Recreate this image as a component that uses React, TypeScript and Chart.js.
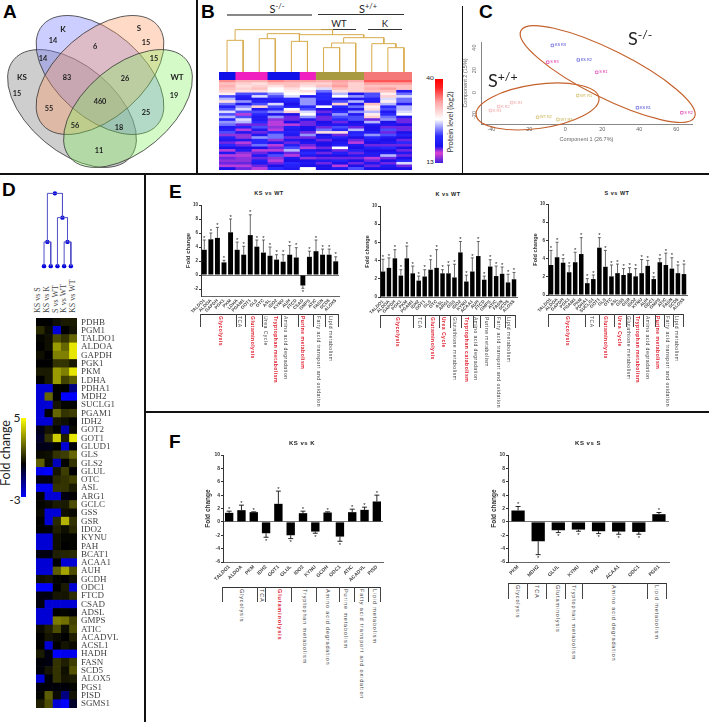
import React, { useEffect, useRef } from "react";
import { Chart, registerables } from "chart.js";
Chart.register(...registerables);

/* ---------- A: Venn ---------- */
const vennSets = ["KS", "K", "S", "WT"];
const vennCx = [72, 100, 100, 128];
const vennCy = [108.5, 75, 75, 108.5];
const vennAngle = [40, 41, -41, -40];
const vennFill = ["rgba(125,125,125,.38)", "rgba(110,120,255,.36)", "rgba(255,150,90,.34)", "rgba(130,240,90,.34)"];
const vennText = ["KS", "K", "S", "WT", "15", "14", "14", "6", "15", "15", "83", "26", "19", "55", "460", "25", "56", "18", "11"];
const vennTextX = [22, 63, 139, 177, 17, 53, 43, 95, 146, 154, 67, 125, 174, 49, 100, 146, 75, 119, 99];
const vennTextY = [77, 29, 28, 77, 94, 41, 59, 47, 43, 59, 78, 79, 96, 109, 102, 113, 126, 128, 151];

/* ---------- B: heatmap ---------- */
const bColumns = ["KS1", "S1", "S2", "KS2", "KS3", "S3", "WT1", "WT2", "WT3", "K1", "K2", "K3"];
const bGroupColors = ["#1010e8", "#f020c0", "#f020c0", "#1010e8", "#1010e8", "#f020c0", "#a89a40", "#a89a40", "#a89a40", "#f47878", "#f47878", "#f47878"];
const bRows = [
  [34, 32, 32, 34, 33, 33, 32, 33, 32, 37, 37, 37],
  [31, 30, 29, 31, 31, 30, 30, 32, 30, 33, 33, 33],
  [32, 29, 30, 29, 31, 29, 31, 33, 30, 31, 31, 31],
  [31, 30, 31, 27, 29, 27, 26, 31, 30, 32, 33, 31],
  [30, 29, 29, 27, 28, 29, 23, 29, 30, 31, 31, 19],
  [28, 22, 22, 24, 27, 27, 21, 25, 19, 22, 28, 23],
  [22, 20, 26, 22, 26, 19, 21, 27, 24, 22, 30, 26],
  [25, 19, 19, 20, 21, 24, 21, 19, 19, 20, 26, 23],
  [29, 24, 20, 19, 20, 24, 19, 22, 25, 19, 28, 23],
  [23, 19, 22, 26, 18, 24, 19, 30, 19, 31, 25, 19],
  [20, 24, 30, 22, 20, 21, 27, 21, 23, 28, 21, 25],
  [22, 26, 19, 21, 27, 22, 18, 19, 19, 29, 22, 25],
  [26, 22, 22, 24, 30, 26, 17, 21, 24, 25, 19, 26],
  [22, 16, 21, 18, 18, 27, 19, 24, 19, 28, 21, 27],
  [25, 22, 19, 24, 17, 24, 17, 22, 22, 30, 23, 19],
  [21, 26, 19, 15, 17, 19, 17, 21, 22, 17, 24, 17],
  [24, 25, 21, 16, 18, 17, 18, 17, 18, 25, 18, 17],
  [23, 17, 17, 16, 16, 17, 19, 19, 19, 19, 19, 18],
  [19, 20, 22, 15, 20, 18, 17, 22, 17, 18, 17, 17],
  [20, 16, 19, 16, 19, 18, 23, 21, 25, 18, 22, 17],
  [22, 19, 17, 21, 20, 17, 29, 29, 20, 19, 17, 18],
  [15, 15, 19, 23, 19, 24, 18, 17, 21, 24, 22, 20],
  [20, 15, 24, 23, 17, 17, 19, 20, 18, 21, 19, 18],
  [19, 19, 21, 15, 19, 18, 17, 18, 17, 19, 18, 17],
  [17, 16, 21, 19, 17, 19, 18, 19, 16, 18, 19, 21],
  [21, 17, 23, 16, 20, 17, 18, 20, 19, 17, 17, 17],
  [18, 18, 18, 17, 22, 16, 17, 27, 18, 20, 21, 18],
  [16, 19, 16, 16, 25, 19, 18, 17, 20, 18, 18, 17],
  [19, 15, 17, 19, 17, 21, 17, 20, 17, 19, 19, 19],
  [16, 16, 19, 22, 16, 19, 18, 18, 19, 19, 25, 17],
  [17, 15, 17, 15, 19, 15, 17, 17, 17, 16, 17, 18],
  [15, 15, 20, 16, 18, 18, 19, 20, 18, 17, 18, 21],
  [17, 14, 19, 17, 21, 19, 17, 18, 17, 19, 17, 26],
  [16, 16, 17, 18, 20, 18, 18, 16, 18, 17, 19, 17],
  [18, 17, 16, 21, 19, 27, 18, 19, 22, 18, 18, 18],
];
const bMergeA = [0, 2, 4, 2.5, 6, 6.5, 10, 9, 7.25, 4.5, 0.5];
const bMergeB = [1, 3, 5, 4.5, 7, 8, 11, 10.5, 9.75, 8.5, 6.56];
const bMergeBaseA = [0, 0, 0, 100, 0, 73, 0, 0, 87, 115, 95];
const bMergeBaseB = [0, 0, 0, 92, 0, 0, 0, 73, 85, 103, 112];
const bMergeH = [95, 100, 92, 115, 73, 87, 73, 85, 103, 112, 127];

/* ---------- C: PCA ---------- */
const pcaNames = ["KS R3", "S R3", "KS R2", "S R1", "KS R1", "S R2", "WT R1", "WT R2", "WT R3", "K R1", "K R2", "K R3"];
const pcaX = [-7, -9.5, 7, 17, 39, 63, 6.7, -15, -4, -29, -36, -40.5];
const pcaY = [42, 27, 29, 18, -13.5, -18, -2.7, -22, -24, -9, -12.5, -16];
const pcaColors = ["#4040d0", "#d81fa8", "#4040d0", "#d81fa8", "#4040d0", "#d81fa8", "#c8ae4a", "#c8ae4a", "#c8ae4a", "#f0a0a0", "#f0a0a0", "#f0a0a0"];
const pcaEllipseX = [22.9, -15];
const pcaEllipseY = [16.5, -12.4];

/* ---------- D: fold-change heatmap ---------- */
const dColumns = ["KS vs S", "KS vs K", "S vs WT", "K vs WT", "KS vs WT"];
const dGenes = ["PDHB", "PGM1", "TALDO1", "ALDOA", "GAPDH", "PGK1", "PKM", "LDHA", "PDHA1", "MDH2", "SUCLG1", "PGAM1", "IDH2", "GOT2", "GOT1", "GLUD1", "GLS", "GLS2", "GLUL", "OTC", "ASL", "ARG1", "GCLC", "GSS", "GSR", "IDO2", "KYNU", "PAH", "BCAT1", "ACAA1", "AUH", "GCDH", "ODC1", "FTCD", "CSAD", "ADSL", "GMPS", "ATIC", "ACADVL", "ACSL1", "HADH", "FASN", "SCD5", "ALOX5", "PGS1", "PISD", "SGMS1"];
const dKSvsS = [0, 0.8, 0.1, 0, 0.3, 0, 0.5, 0, -2.5, -2.5, -2.5, -2.5, -2.5, -0.3, -0.5, -0.3, 0.2, 1.8, -2.8, -0.2, -2.8, 0, 0.1, 0.2, 0, 0, -2.5, -2.5, -0.2, -2.5, -2.5, 0.3, -3, -0.2, -0.2, -2.5, -2.5, 0.2, 0, 0, 0.5, -0.1, -0.1, -2.5, -0.1, 0.1, 0.6];
const dKSvsK = [0, 0.2, 0.3, 0.3, 0, 0, 0.5, 0.5, -2.5, 2, -2.5, 0, -2.5, 0.4, 1, -0.3, 0.3, 0.2, -3, -0.2, -2.8, -2.5, 0.2, -2.5, -2.5, -0.1, -2.5, -2.5, -0.2, -2.5, -2.5, 0.4, -3, -0.2, -2.5, -2.5, -2.5, 0.6, 0.4, -2.5, -0.2, -0.2, 0.4, -0.1, -0.1, 1.8, 1.5];
const dSvsWT = [0.3, -2.5, 1.5, 3, 2.5, 1, 3, 3, 0, 0, 0.4, 2, 0.4, 0.1, 4, 0, 1, -2.2, 0.4, 0.8, 1, -2.5, 0.5, -2.5, 0.8, 0.6, 0.3, 0.3, 0.6, 0, 1.8, 0.1, 0, 0.4, -2.5, 0, 2.4, 1.5, 0.2, 0, -3, 1, 1, 1, -0.1, 0.2, -2.5];
const dKvsWT = [0.5, 0, 1, 2, 2.5, 1, 2.5, 1.3, 0, -3, 0.1, 1, 0.3, -2, 0.6, -2.5, 1.2, 0.1, 1.2, 1, 1, -0.2, 0.5, 0.3, 3.5, 0.3, 0.1, 0, 0.7, -2.5, 3.2, 0, 0.5, 0.4, -2.5, 0.1, 2.2, 0.3, 0, 0.4, -2.8, 0.6, 0.3, 0.4, -0.1, -1.5, -3];
const dKSvsWT = [0.5, 0.4, 2, 4.5, 4.5, 0.5, 4.5, 1.8, -1.5, -3, 0.1, 1.2, 0, 0.2, 4.5, -0.1, 2, 1, 0, 1.3, 0.5, 0, 1.5, 0.2, 1, 0.8, 0.1, 0.1, 0.8, -2.5, 1.5, 0.3, -2.5, 0.9, -2.5, -0.1, 1.3, 1.5, 0.6, 0.2, -2.8, 1.2, 1.6, 0.5, 0.1, 0.4, -0.5];
const dMergeA = [0, 3, 2, 0.5];
const dMergeB = [1, 4, 3.5, 2.75];
const dMergeBaseA = [0, 0, 0, 1];
const dMergeBaseB = [0, 0, 1, 2];
const dMergeH = [1, 1, 2, 3];

/* ---------- E ---------- */
const e1Genes = ["TALDO1", "ALDOA", "GAPDH", "PGK1", "PKM", "LDHA", "PGAM1", "GOT1", "GLS", "OTC", "ASL", "IDO2", "KYNU", "AUH", "FTCD", "CSAD", "GMPS", "ATIC", "FASN", "SCD5", "ALOX5"];
const e1Values = [3.6, 5.1, 5.3, 1.8, 6.1, 3.6, 2.9, 5.7, 4.05, 3.2, 2.75, 2.2, 1.9, 2.9, 2.5, -1.5, 2.6, 3.4, 2.9, 2.9, 1.95];
const e1Errors = [5.0, 6.0, 6.8, 2.1, 8.0, 4.7, 4.1, 8.6, 5.0, 5.0, 4.0, 2.9, 2.9, 4.2, 3.9, -1.9, 3.4, 5.0, 3.7, 3.7, 2.6];
const e1Groups = ["Glycolysis", "TCA", "Glutaminolysis", "Urea Cycle", "Tryptophan metabolism", "Amino acid degradation", "Purine metabolism", "Fatty acid transport and oxidation", "Lipid metabolism"];
const e1Red = [1, 0, 1, 0, 1, 0, 1, 0, 0];

const e2Genes = ["TALDO1", "ALDOA", "GAPDH", "PGK1", "PKM", "PGAM1", "IDH2", "GOT1", "GLS", "OTC", "ASL", "ARG1", "GSS", "IDO2", "KYNU", "ACAA1", "AUH", "FTCD", "GMPS", "ATIC", "FASN", "SCD5", "ALOX5"];
const e2Values = [2.8, 3.2, 4.25, 2.35, 4.25, 2.6, 1.8, 2.25, 3.0, 3.2, 2.6, 2.6, 2.15, 4.9, 1.7, 2.8, 4.5, 1.9, 3.35, 2.3, 2.55, 1.6, 1.95];
const e2Errors = [4.15, 4.3, 5.2, 3.0, 5.6, 3.4, 2.3, 3.0, 4.1, 5.2, 3.0, 3.5, 3.6, 6.1, 2.4, 4.3, 6.1, 2.3, 4.1, 3.4, 3.3, 2.5, 2.7];
const e2Groups = ["Glycolysis", "TCA", "Glutaminolysis", "Urea Cycle", "Glutathione metabolism", "Tryptophan catabolism", "Amino acid degradation", "Purine metabolism", "Fatty acid transport and oxidation", "Lipid metabolism"];
const e2Red = [1, 0, 1, 1, 0, 1, 0, 0, 0, 0];

const e3Genes = ["TALDO1", "ALDOA", "GAPDH", "PGK1", "PGAM1", "PKM", "PDHA1", "SUCLG1", "GOT1", "GLS", "OTC", "ASL", "GSS", "GSR", "IDO2", "KYNU", "AUH", "ODC1", "GMPS", "ATIC", "FASN", "SCD5", "ALOX5"];
const e3Values = [3.3, 4.15, 3.55, 2.5, 3.6, 4.5, 1.3, 1.75, 5.2, 3.1, 2.05, 2.4, 2.2, 2.4, 2.05, 2.4, 3.2, 1.75, 3.6, 3.3, 2.9, 2.4, 2.3];
const e3Errors = [4.9, 5.8, 4.0, 3.2, 4.7, 6.3, 1.8, 2.2, 6.3, 4.9, 3.3, 3.4, 2.9, 3.0, 2.9, 3.9, 3.8, 2.0, 4.0, 4.6, 4.1, 3.3, 3.4];
const e3Groups = ["Glycolysis", "TCA", "Glutaminolysis", "Urea Cycle", "Glutathione metabolism", "Tryptophan metabolism", "Amino acid degradation", "Purine metabolism", "Fatty acid transport and oxidation", "Lipid metabolism"];
const e3Red = [1, 0, 1, 1, 0, 1, 0, 1, 0, 0];

/* ---------- F ---------- */
const f1Genes = ["TALDO1", "ALDOA", "PKM", "IDH2", "GOT1", "GLUL", "IDO2", "KYNU", "GCDH", "ODC1", "ATIC", "ACADVL", "PISD"];
const f1Values = [1.35, 1.75, 1.45, -1.7, 2.7, -2.0, 1.3, -1.45, 1.4, -2.2, 1.45, 1.8, 3.05];
const f1Errors = [1.6, 2.5, 1.5, -2.3, 4.6, -2.5, 1.6, -1.7, 1.5, -2.9, 1.9, 2.2, 4.0];
const f1Groups = ["Glycolysis", "TCA", "Glutaminolysis", "Tryptophan metabolism", "Amino acid degradation", "Purine metabolism", "Fatty acid transport and oxidation", "Lipid metabolism"];
const f1Red = [0, 0, 1, 0, 0, 0, 0, 0];

const f2Genes = ["PKM", "MDH2", "GLUL", "KYNU", "PAH", "ACAA1", "ODC1", "PGS1"];
const f2Values = [1.7, -2.9, -1.25, -1.15, -1.4, -1.45, -1.5, 1.15];
const f2Errors = [2.3, -4.9, -1.6, -1.4, -1.75, -1.85, -1.85, 1.4];
const f2Groups = ["Glycolysis", "TCA", "Glutaminolysis", "Tryptophan metabolism", "Amino acid degradation", "Lipid metabolism"];
const f2Red = [0, 0, 0, 0, 0, 0];

/* ---------- layout (page pixels, measured) ---------- */
const cx = (o: number, v: number) => o + v / 3;
const RED = "#e02030";
const GREY = "#444";
const SANS = '"Liberation Sans", Arial, sans-serif';
const SERIF = '"Liberation Serif", serif';
const LATO = 'Lato, "Open Sans", sans-serif';

const brackets = [
  { groups: e1Groups, red: e1Red, o: 150, y: 314, bottom: 327, size: 5, sp: 0.5, labelTop: 315.5,
    ticks: [150, 258, 284, 335, 393, 445, 490, 525, 565], labels: [211, 267, 307, 345, 375, 406, 455, 503, 541] },
  { groups: e2Groups, red: e2Red, o: 340, y: 315, bottom: 328, size: 5, sp: 0.5, labelTop: 316.5,
    ticks: [121, 220, 254, 296, 330, 362, 398, 420, 462, 495, 525], labels: [172, 238, 275, 308, 342, 378, 405, 438, 475, 505] },
  { groups: e3Groups, red: e3Red, o: 520, y: 314, bottom: 327, size: 5, sp: 0.5, labelTop: 315.5,
    ticks: [85, 195, 238, 283, 318, 340, 370, 405, 432, 458, 488], labels: [140, 212, 255, 297, 325, 350, 380, 410, 440, 468] },
  { groups: f1Groups, red: f1Red, o: 150, y: 587, bottom: 602, size: 5.5, sp: 0.85, labelTop: 588.5,
    ticks: [217, 320, 346, 422, 497, 568, 612, 655, 690], labels: [272, 332, 388, 462, 530, 586, 632, 672] },
  { groups: f2Groups, red: f2Red, o: 430, y: 583, bottom: 599, size: 5.5, sp: 0.85, labelTop: 585,
    ticks: [235, 290, 347, 406, 457, 652, 708], labels: [262, 318, 380, 430, 550, 677] },
];

/* ---------- colours ---------- */
const lerp = (a: number, b: number, t: number) => Math.round(a + (b - a) * t);
const bStops: [number, number[]][] = [
  [13, [58, 32, 224]], [16, [185, 60, 220]], [18, [30, 16, 235]], [21, [40, 40, 255]],
  [27, [255, 255, 255]], [33, [255, 160, 160]], [37, [255, 85, 85]], [40, [255, 0, 0]],
];
function bColor(v: number) {
  for (let i = 1; i < bStops.length; i++) {
    if (v <= bStops[i][0]) {
      const [v0, c0] = bStops[i - 1];
      const [v1, c1] = bStops[i];
      const t = Math.max(0, (v - v0) / (v1 - v0));
      return `rgb(${lerp(c0[0], c1[0], t)},${lerp(c0[1], c1[1], t)},${lerp(c0[2], c1[2], t)})`;
    }
  }
  return "#f00";
}
function dColor(v: number) {
  if (v >= 0) {
    const t = Math.min(1, v / 5);
    const g = Math.round(255 * t);
    return `rgb(${g},${g},0)`;
  }
  return `rgb(0,0,${Math.round(255 * Math.min(1, -v / 3))})`;
}

/* ---------- plugins ---------- */
const errorPlugin = {
  id: "errBars",
  afterDatasetsDraw(chart: any, _a: any, o: any) {
    const { ctx, scales } = chart;
    const bars = chart.getDatasetMeta(0).data;
    ctx.save();
    ctx.strokeStyle = o.color;
    ctx.fillStyle = "#222";
    ctx.lineWidth = o.lw;
    ctx.textAlign = "center";
    ctx.font = `${o.star}px ${SANS}`;
    o.errors.forEach((e: number, i: number) => {
      const x = bars[i].x;
      const y0 = scales.y.getPixelForValue(o.values[i]);
      const y1 = scales.y.getPixelForValue(e);
      ctx.beginPath();
      ctx.moveTo(x, y0);
      ctx.lineTo(x, y1);
      ctx.moveTo(x - o.cap, y1);
      ctx.lineTo(x + o.cap, y1);
      ctx.stroke();
      const up = e >= o.values[i] && e >= 0;
      ctx.textBaseline = "middle";
      ctx.fillText("*", x, up ? y1 - 2 : y1 + 4);
    });
    ctx.restore();
  },
};

const ellipsePlugin = {
  id: "ellipses",
  beforeDatasetsDraw(chart: any, _a: any, o: any) {
    const { ctx, scales } = chart;
    ctx.save();
    o.cx.forEach((c: number, i: number) => {
      ctx.beginPath();
      ctx.ellipse(scales.x.getPixelForValue(c), scales.y.getPixelForValue(o.cy[i]), o.rx[i], o.ry[i], (o.angle[i] * Math.PI) / 180, 0, Math.PI * 2);
      if (o.fill) {
        ctx.fillStyle = o.fill[i];
        ctx.fill();
      }
      ctx.strokeStyle = o.stroke;
      ctx.lineWidth = o.lw;
      ctx.stroke();
    });
    ctx.restore();
  },
};

const pointTextPlugin = {
  id: "pointText",
  afterDatasetsDraw(chart: any, _a: any, o: any) {
    const { ctx } = chart;
    const pts = chart.getDatasetMeta(0).data;
    ctx.save();
    ctx.textBaseline = "middle";
    ctx.textAlign = o.align;
    pts.forEach((p: any, i: number) => {
      const big = o.boldFirst && i < o.boldFirst;
      ctx.font = `${big || o.bold ? "bold " : ""}${big ? o.bigSize : o.size}px ${o.family}`;
      ctx.fillStyle = o.colors ? o.colors[i] : o.color;
      ctx.fillText(o.texts[i], p.x + o.dx, p.y);
    });
    ctx.restore();
  },
};

/* ---------- chart builders ---------- */
function barChart(opts: any) {
  const { genes, values, errors, min, max, yW, xH, padT, padR, tickFont, titleFont, labelFont, barPct, cap, lw, star, errColor } = opts;
  return {
    type: "bar",
    data: { labels: genes, datasets: [{ data: values, backgroundColor: "#000", barPercentage: barPct, categoryPercentage: 1 }] },
    plugins: [errorPlugin],
    options: {
      responsive: false,
      animation: false,
      devicePixelRatio: 1,
      layout: { padding: { top: padT, right: padR, left: 0, bottom: 0 } },
      plugins: {
        legend: { display: false },
        tooltip: { enabled: false },
        errBars: { errors, values, cap, lw, star, color: errColor },
      },
      scales: {
        x: {
          grid: { display: false, drawTicks: true, tickLength: 2 },
          border: { color: "#666", width: 1 },
          ticks: { autoSkip: false, minRotation: 45, maxRotation: 45, font: { family: SANS, size: labelFont, weight: "bold" }, color: "#444", padding: 0 },
          afterFit: (s: any) => {
            s.height = xH;
            s.paddingLeft = 0;
            s.paddingRight = 0;
          },
        },
        y: {
          min,
          max,
          grid: { display: true, color: (c: any) => (c.tick && c.tick.value === 0 ? "#777" : "transparent"), tickColor: "#333", tickLength: 2, drawTicks: true },
          border: { color: "#333", width: 1 },
          ticks: { stepSize: 2, includeBounds: false, font: { family: SANS, size: tickFont, weight: "bold" }, color: "#333", padding: 1 },
          title: { display: true, text: "Fold change", color: "#333", padding: 0, font: { family: SANS, size: titleFont, weight: "bold" } },
          afterFit: (s: any) => {
            s.width = yW;
            s.paddingTop = 0;
            s.paddingBottom = 0;
          },
        },
      },
    },
  };
}

function heatChart(rowLabels: string[], columnLabels: string[], colorAt: (r: number, c: number) => string, rightAxis?: any) {
  return {
    type: "bar",
    data: {
      labels: rowLabels,
      datasets: columnLabels.map((name, c) => ({
        label: name,
        data: rowLabels.map(() => 1),
        backgroundColor: rowLabels.map((_, r) => colorAt(r, c)),
        barPercentage: 1,
        categoryPercentage: 1,
        borderWidth: 0,
      })),
    },
    options: {
      indexAxis: "y",
      responsive: false,
      animation: false,
      devicePixelRatio: 1,
      plugins: { legend: { display: false }, tooltip: { enabled: false } },
      scales: {
        x: { stacked: true, display: false, min: 0, max: columnLabels.length },
        y: rightAxis
          ? {
              stacked: true,
              position: "right",
              grid: { display: false, drawTicks: false },
              border: { display: false },
              ticks: { autoSkip: false, padding: rightAxis.padding, color: "#444", font: { family: SERIF, size: rightAxis.size } },
              afterFit: (s: any) => {
                s.width = rightAxis.width;
                s.paddingTop = 0;
                s.paddingBottom = 0;
              },
            }
          : { stacked: true, display: false },
      },
    },
  };
}

function dendroChart(mA: number[], mB: number[], baseA: number[], baseB: number[], h: number[], color: string, xr: number[], yr: number[], withDots: boolean) {
  const datasets: any[] = mA.map((a, i) => ({
    data: [{ x: a, y: baseA[i] }, { x: a, y: h[i] }, { x: mB[i], y: h[i] }, { x: mB[i], y: baseB[i] }],
    showLine: true,
    borderColor: color,
    borderWidth: 1,
    pointRadius: 0,
    tension: 0,
    clip: false,
  }));
  if (withDots) {
    const leaves = dColumns.map((_, i) => ({ x: i, y: 0 }));
    const nodes = mA.map((a, i) => ({ x: (a + mB[i]) / 2, y: h[i] }));
    datasets.push({ data: [...leaves, ...nodes], showLine: false, pointRadius: 2.2, backgroundColor: "#0000e0", borderWidth: 0, clip: false });
  }
  return {
    type: "scatter",
    data: { datasets },
    options: {
      responsive: false,
      animation: false,
      devicePixelRatio: 1,
      plugins: { legend: { display: false }, tooltip: { enabled: false } },
      scales: { x: { display: false, type: "linear", min: xr[0], max: xr[1] }, y: { display: false, min: yr[0], max: yr[1] } },
    },
  };
}

const vennConfig = () => ({
  type: "scatter",
  data: { datasets: [{ data: vennTextX.map((x, i) => ({ x, y: vennTextY[i] })), pointRadius: 0 }] },
  plugins: [ellipsePlugin, pointTextPlugin],
  options: {
    responsive: false,
    animation: false,
    devicePixelRatio: 1,
    plugins: {
      legend: { display: false },
      tooltip: { enabled: false },
      ellipses: { cx: vennCx, cy: vennCy, rx: vennSets.map(() => 76), ry: vennSets.map(() => 43), angle: vennAngle, fill: vennFill, stroke: "#333", lw: 0.8 },
      pointText: { texts: vennText, size: 7.3, bigSize: 8, boldFirst: 4, bold: true, family: LATO, align: "center", dx: 0, color: "#222" },
    },
    scales: { x: { display: false, type: "linear", min: 0, max: 196 }, y: { display: false, reverse: true, min: 0, max: 172 } },
  },
});

const pcaConfig = () => ({
  type: "scatter",
  data: {
    datasets: [{
      data: pcaX.map((x, i) => ({ x, y: pcaY[i] })),
      pointStyle: "rect",
      pointRadius: 1.8,
      borderWidth: 0.6,
      backgroundColor: "transparent",
      borderColor: pcaColors,
    }],
  },
  plugins: [ellipsePlugin, pointTextPlugin],
  options: {
    responsive: false,
    animation: false,
    devicePixelRatio: 1,
    layout: { padding: { top: 24, right: 13, left: 0, bottom: 0 } },
    plugins: {
      legend: { display: false },
      tooltip: { enabled: false },
      ellipses: { cx: pcaEllipseX, cy: pcaEllipseY, rx: [97, 62], ry: [24, 22], angle: [26.5, -8], stroke: "#c4622d", lw: 1.2 },
      pointText: { texts: pcaNames, size: 3.8, bold: false, family: SANS, align: "left", dx: 2.5, colors: pcaColors },
    },
    scales: {
      x: {
        type: "linear",
        min: -45.6,
        max: 68.5,
        grid: { display: false, tickLength: 2 },
        border: { color: "#888" },
        ticks: { stepSize: 20, includeBounds: false, color: "#666", padding: 0, font: { family: SANS, size: 5.5 } },
        title: { display: true, text: "Component 1 (26.7%)", color: "#666", padding: 0, font: { family: SANS, size: 5.5 } },
        afterFit: (s: any) => { s.height = 19; s.paddingLeft = 0; s.paddingRight = 0; },
      },
      y: {
        min: -28,
        max: 45,
        grid: { display: false, tickLength: 2 },
        border: { color: "#888" },
        ticks: { stepSize: 20, includeBounds: false, color: "#666", padding: 1, minRotation: 90, maxRotation: 90, crossAlign: "center", font: { family: SANS, size: 5.5 } },
        title: { display: true, text: "Component 2 (15%)", color: "#666", padding: 0, font: { family: SANS, size: 5.5 } },
        afterFit: (s: any) => { s.width = 19; s.paddingTop = 0; s.paddingBottom = 0; },
      },
    },
  },
});

const barCommonE = { labelFont: 4.5, tickFont: 4.5, barPct: 0.75, cap: 1.5, lw: 0.8, star: 6, errColor: "#444", padT: 6, padR: 2, xH: 24 };
const barCommonF = { labelFont: 5, tickFont: 5, cap: 2.5, lw: 0.9, star: 6, errColor: "#111", padT: 6, padR: 2, xH: 24 };
const dColumnsData = [dKSvsS, dKSvsK, dSvsWT, dKvsWT, dKSvsWT];

/* ---------- React ---------- */
function Panel({ config, x, y, w, h, blur }: any) {
  const ref = useRef<HTMLCanvasElement>(null);
  useEffect(() => {
    const chart = new Chart(ref.current as any, config() as any);
    return () => chart.destroy();
  }, []);
  return <canvas ref={ref} width={w} height={h} style={{ position: "absolute", left: x, top: y, width: w, height: h, display: "block", filter: blur ? `blur(${blur}px)` : undefined }} />;
}

function Txt({ x, y, size, color = "#222", font = SANS, weight = 400, rot = 0, sp = 0, anchor = "center", children }: any) {
  const tx = anchor === "center" ? "translate(-50%,-50%)" : "translateY(-50%)";
  return (
    <div style={{
      position: "absolute", left: x, top: y, fontSize: size, color, fontFamily: font, fontWeight: weight,
      letterSpacing: sp, lineHeight: 1, whiteSpace: "nowrap",
      transformOrigin: anchor === "center" ? "50% 50%" : "0 50%",
      transform: `${tx} rotate(${rot}deg)`,
    }}>{children}</div>
  );
}

function Line({ x, y, w, h, color = "#111" }: any) {
  return <div style={{ position: "absolute", left: x, top: y, width: w, height: h, background: color }} />;
}

function Sup({ base, sup, x, y, size, anchor }: any) {
  return (
    <Txt x={x} y={y} size={size} font={LATO} anchor={anchor}>
      {base}<sup style={{ fontSize: "0.68em", lineHeight: 0, verticalAlign: "0.5em" }}>{sup}</sup>
    </Txt>
  );
}

function Bracket({ b }: any) {
  const ticks = b.ticks.map((t: number) => cx(b.o, t));
  return (
    <>
      <Line x={ticks[0]} y={b.y} w={ticks[ticks.length - 1] - ticks[0]} h={0.8} color="#333" />
      {ticks.map((t: number, i: number) => <Line key={i} x={t} y={b.y} w={0.8} h={b.bottom - b.y} color="#444" />)}
      {b.groups.map((g: string, i: number) => (
        <Txt key={g} x={cx(b.o, b.labels[i])} y={b.labelTop} size={b.size} sp={b.sp} anchor="start" rot={90}
          color={b.red[i] ? RED : GREY} weight={b.red[i] ? 700 : 400}>{g}</Txt>
      ))}
    </>
  );
}

const dColumnLabelX = [38, 47, 56, 64, 73];

export default function App() {
  return (
    <div style={{ position: "absolute", left: 0, top: 0, width: 709, height: 722, background: "#fff", overflow: "hidden", filter: "blur(0.35px)" }}>
      {/* separators */}
      <Line x={196} y={0} w={1.5} h={173} />
      <Line x={461.5} y={6} w={1.5} h={167} />
      <Line x={0} y={173} w={709} h={1.5} />
      <Line x={144} y={174} w={1.5} h={548} />
      <Line x={144} y={411} w={565} h={1.5} />

      {/* panel letters */}
      <Txt x={3} y={11} size={19} weight={700} color="#000" anchor="start">A</Txt>
      <Txt x={201} y={11} size={19} weight={700} color="#000" anchor="start">B</Txt>
      <Txt x={479} y={11} size={19} weight={700} color="#000" anchor="start">C</Txt>
      <Txt x={2} y={189} size={19} weight={700} color="#000" anchor="start">D</Txt>
      <Txt x={169} y={191} size={19} weight={700} color="#000" anchor="start">E</Txt>
      <Txt x={169} y={441} size={19} weight={700} color="#000" anchor="start">F</Txt>

      {/* A */}
      <Panel config={vennConfig} x={0} y={0} w={196} h={172} />

      {/* B */}
      <Sup base="S" sup="-/-" x={277} y={8} size={11} />
      <Sup base="S" sup="+/+" x={368} y={8} size={11} />
      <Line x={226.7} y={14} w={85.6} h={1.6} color="#888" />
      <Line x={317.7} y={14.2} w={86.3} h={0.8} color="#333" />
      <Txt x={339} y={24} size={9.5} font={LATO}>WT</Txt>
      <Txt x={385} y={24} size={9.5} font={LATO}>K</Txt>
      <Line x={321} y={29} w={34.7} h={0.8} color="#333" />
      <Line x={368} y={29} w={34} h={0.8} color="#333" />
      <Panel x={219} y={28} w={193} h={44} config={() => dendroChart(bMergeA, bMergeB, bMergeBaseA, bMergeBaseB, bMergeH, "#d8ab4e", [-0.5, 11.5], [0, 132], false)} />
      <Panel x={219} y={72} w={193} h={8} config={() => heatChart(["group"], bColumns, (_r, c) => bGroupColors[c])} />
      <Panel x={219} y={80} w={193} h={90} blur={0.5} config={() => heatChart(bRows.map((_, i) => `protein ${i + 1}`), bColumns, (r, c) => bColor(bRows[r][c]))} />
      <div style={{ position: "absolute", left: 435, top: 79, width: 7.5, height: 84, background: "linear-gradient(to bottom,#ff0000 0%,#ff2020 10%,#ffa8a8 28%,#ffffff 48%,#2a2aff 68%,#1a10f0 80%,#e040d0 88%,#3a20e0 100%)" }} />
      <Txt x={430} y={78} size={6.5} font={LATO}>40</Txt>
      <Txt x={430} y={162} size={6.5} font={LATO}>13</Txt>
      <Txt x={451} y={122} size={7.5} rot={-90} font={LATO} color="#333">Protein level (log2)</Txt>

      {/* C */}
      <Panel config={pcaConfig} x={462} y={18} w={243} h={125} />
      <Sup base="S" sup="-/-" x={628} y={38} size={18} anchor="start" />
      <Sup base="S" sup="+/+" x={488} y={80} size={18} anchor="start" />

      {/* D */}
      <Panel x={36} y={185} w={41} h={90} config={() => dendroChart(dMergeA, dMergeB, dMergeBaseA, dMergeBaseB, dMergeH, "#5050c8", [-0.6, 4.32], [-0.2, 3.18], true)} />
      {dColumns.map((c, i) => (
        <Txt key={c} x={dColumnLabelX[i]} y={313} size={8} font={SERIF} rot={-90} color="#444" anchor="start">{c}</Txt>
      ))}
      <Panel x={36} y={318} w={101} h={390} config={() => heatChart(dGenes, dColumns, (r, c) => dColor(dColumnsData[c][r]), { width: 60, padding: 4, size: 9 })} />
      <div style={{ position: "absolute", left: 21, top: 418, width: 5, height: 79, background: "linear-gradient(to bottom,#ffff00 0%,#000 58%,#0000ff 100%)" }} />
      <Txt x={17} y={418} size={12} font={LATO}>5</Txt>
      <Txt x={15} y={500} size={12} font={LATO}>-3</Txt>
      <Txt x={6} y={453} size={12.5} rot={-90} font={LATO}>Fold change</Txt>

      {/* E */}
      <Txt x={269} y={194} size={5.5} weight={700} sp={0.5}>KS vs WT</Txt>
      <Panel x={185} y={199} w={156} h={121} config={() => barChart({ ...barCommonE, genes: e1Genes, values: e1Values, errors: e1Errors, min: -3, max: 10, yW: 16, titleFont: 6 })} />
      <Txt x={448} y={195} size={5.5} weight={700} sp={0.5}>K vs WT</Txt>
      <Panel x={364} y={200} w={155} h={121} config={() => barChart({ ...barCommonE, genes: e2Genes, values: e2Values, errors: e2Errors, min: 0, max: 10, yW: 16, titleFont: 5.5 })} />
      <Txt x={617} y={194} size={5.5} weight={700} sp={0.5}>S vs WT</Txt>
      <Panel x={532} y={198} w={157} h={121} config={() => barChart({ ...barCommonE, genes: e3Genes, values: e3Values, errors: e3Errors, min: 0, max: 10, yW: 16, titleFont: 5.5 })} />
      {brackets.map((b, i) => <Bracket key={i} b={b} />)}

      {/* F */}
      <Txt x={302} y={443} size={6} weight={700} sp={0.5}>KS vs K</Txt>
      <Panel x={204} y={449} w={181} h={137} config={() => barChart({ ...barCommonF, genes: f1Genes, values: f1Values, errors: f1Errors, min: -6, max: 10, yW: 19, titleFont: 6.5, barPct: 0.68 })} />
      <Txt x={588} y={443} size={6} weight={700} sp={0.5}>KS vs S</Txt>
      <Panel x={490} y={449} w={181} h={137} config={() => barChart({ ...barCommonF, genes: f2Genes, values: f2Values, errors: f2Errors, min: -6, max: 10, yW: 18, titleFont: 6.5, barPct: 0.66 })} />
    </div>
  );
}
